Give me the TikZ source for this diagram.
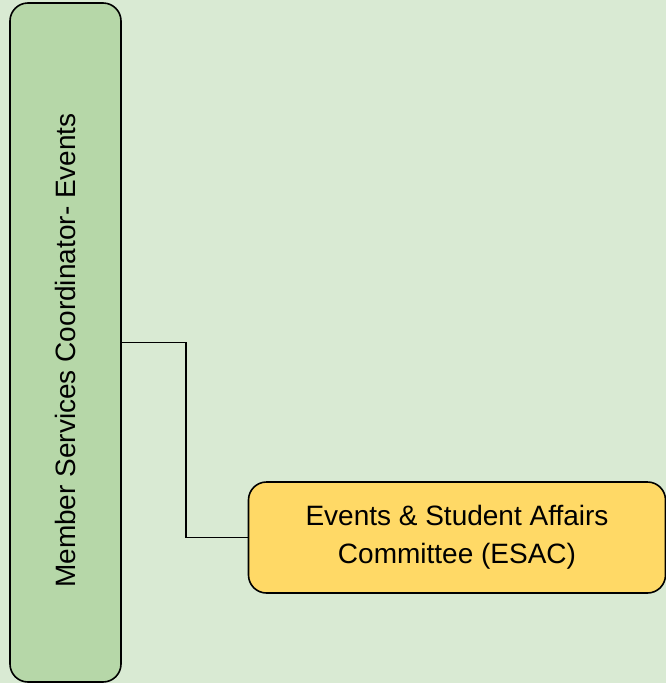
\documentclass[tikz,border=0pt]{standalone}
\usepackage{fontspec}
\setmainfont{Liberation Sans}
\definecolor{bggreen}{HTML}{D9EAD3}
\definecolor{boxgreen}{HTML}{B6D7A8}
\definecolor{boxyellow}{HTML}{FFD966}
\begin{document}
\begin{tikzpicture}[x=1pt,y=-1pt,
  role node/.style={draw,line width=1.6pt,rounded corners=18pt,inner sep=0pt,
    font=\fontsize{28}{38}\selectfont,align=center}]

  \fill[bggreen] (0,0) rectangle (666,683);
  \useasboundingbox (0,0) rectangle (666,683);

  \node[role node,fill=boxgreen,minimum width=111pt,minimum height=679pt] (msc) at (65.5,342.5) {};
  \node[rotate=90,font=\fontsize{28}{38}\selectfont] (msclabel) at ([yshift=-8pt]msc.center) {Member Services Coordinator- Events};
  \node[role node,fill=boxyellow,minimum width=417pt,minimum height=111pt] (esac) at (457,537.5)
    {Events \& Student Affairs\\Committee (ESAC)};

  \draw[line width=1.6pt] (msc.east) -- ++(64,0) |- (esac.west);
\end{tikzpicture}
\end{document}
